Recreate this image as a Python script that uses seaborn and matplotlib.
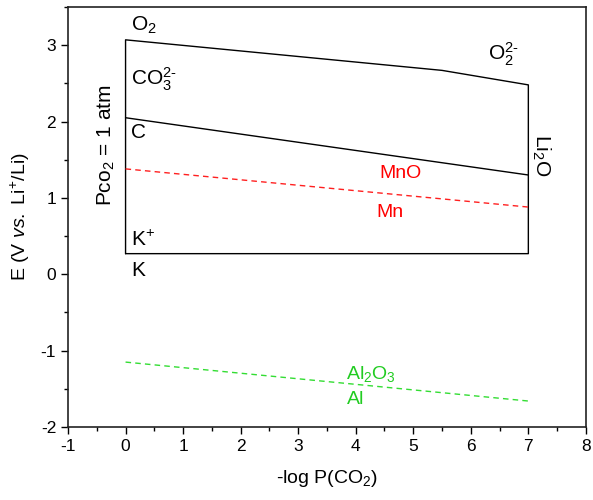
import matplotlib
matplotlib.use("Agg")
import matplotlib.pyplot as plt
import pandas as pd
import seaborn as sns
from matplotlib.ticker import MultipleLocator

# stability window outline (K / K+ ... O2 boundary)
outline_x = [0, 0, 5.5, 7, 7, 0]
outline_y = [0.27, 3.07, 2.67, 2.48, 0.27, 0.27]

# C / CO3 2- boundary
c_x = [0, 7]
c_y = [2.05, 1.30]

# Mn / MnO boundary
mn_x = [0, 7]
mn_y = [1.38, 0.88]

# Al / Al2O3 boundary
al_x = [0, 7]
al_y = [-1.15, -1.66]

sns.set_style("ticks")
plt.rcParams['font.family'] = ['Liberation Sans', 'DejaVu Sans']
plt.rcParams['mathtext.fontset'] = 'custom'
plt.rcParams['mathtext.rm'] = 'Liberation Sans'
plt.rcParams['mathtext.it'] = 'Liberation Sans:italic'
plt.rcParams['mathtext.bf'] = 'Liberation Sans:bold'
plt.rcParams['mathtext.sf'] = 'Liberation Sans'
plt.rcParams['axes.unicode_minus'] = False
plt.rcParams['text.color'] = 'black'
plt.rcParams['axes.labelcolor'] = 'black'
plt.rcParams['xtick.color'] = 'black'
plt.rcParams['ytick.color'] = 'black'

fig = plt.figure(figsize=(5.93, 5.0), dpi=100)
ax = fig.add_axes([0.1147, 0.146, 0.8733, 0.84])

outline = pd.DataFrame({"x": outline_x, "y": outline_y})
sns.lineplot(data=outline, x="x", y="y", sort=False, estimator=None, color="black", lw=1, ax=ax)
sns.lineplot(x=c_x, y=c_y, estimator=None, color="black", lw=1, ax=ax)
sns.lineplot(x=mn_x, y=mn_y, estimator=None, color="#ff2020", lw=1, ax=ax, linestyle=(0, (4, 3)))
sns.lineplot(x=al_x, y=al_y, estimator=None, color="#33dd33", lw=1, ax=ax, linestyle=(0, (4, 3)))

fs = 15
ax.text(0.1, 3.12, "O$_2$", fontsize=fs, ha="left", va="bottom")
ax.text(0.1, 2.55, "CO$_3^{2\u2010}$", fontsize=fs, ha="left", va="center")
ax.text(0.1, 1.85, "C", fontsize=fs, ha="left", va="center")
ax.text(0.1, 0.45, "K$^{+}$", fontsize=fs, ha="left", va="center")
ax.text(0.1, 0.05, "K", fontsize=fs, ha="left", va="center")
ax.text(6.3, 2.88, "O$_2^{2\u2010}$", fontsize=fs, ha="left", va="center")
ax.text(7.22, 1.56, "Li$_2$O", fontsize=fs, ha="center", va="center", rotation=270)
ax.text(-0.33, 1.69, "Pco$_2$ = 1 atm", fontsize=fs, ha="center", va="center", rotation=90)
ax.text(4.77, 1.32, "MnO", fontsize=14, color="#ff0000", ha="center", va="center")
ax.text(4.6, 0.81, "Mn", fontsize=14, color="#ff0000", ha="center", va="center")
ax.text(4.27, -1.30, "Al$_2$O$_3$", fontsize=14, color="#22cc22", ha="center", va="center")
ax.text(3.99, -1.64, "Al", fontsize=14, color="#22cc22", ha="center", va="center")

ax.set_xlim(-1, 8)
ax.set_ylim(-2, 3.5)
ax.xaxis.set_major_locator(MultipleLocator(1))
ax.xaxis.set_minor_locator(MultipleLocator(0.5))
ax.yaxis.set_major_locator(MultipleLocator(1))
ax.yaxis.set_minor_locator(MultipleLocator(0.5))
ax.tick_params(which="major", direction="out", length=5, width=1, labelsize=12.5)
ax.tick_params(which="minor", direction="out", length=3, width=1)
for s in ax.spines.values():
    s.set_visible(True)
    s.set_linewidth(1.2)
    s.set_color("#222222")

ax.set_xlabel("-log P(CO$_2$)", fontsize=14, labelpad=10)
ax.set_ylabel("E (V $\\mathit{vs.}$ Li$^{+}$/Li)", fontsize=14, labelpad=6)

fig.savefig("out.png", dpi=100)
